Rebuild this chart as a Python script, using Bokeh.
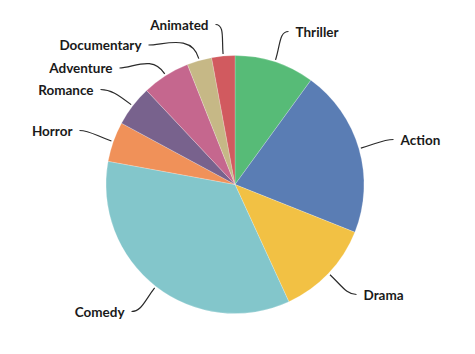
import math
from bokeh.plotting import figure
from bokeh.models import Range1d, ColumnDataSource
from bokeh.core.properties import value
from bokeh.embed import file_html
from bokeh.resources import INLINE

# ---- data ----
genres = ["Thriller", "Action", "Drama", "Comedy", "Horror",
          "Romance", "Adventure", "Documentary", "Animated"]
shares = [10, 21, 12.1, 34.7, 5.0, 5.1, 6.0, 3.1, 2.9]
colors = ["#57BB77", "#5A7DB4", "#F2C144", "#83C6CB", "#F09159",
          "#78628D", "#C5678E", "#C6B886", "#D15A5F"]

# ---- layout (pixel space, y measured from top) ----
W, H = 475, 354
CX, CY, R = 234.5, 184.0, 129.0
# end point of each leader line (near the label) and label side
lead_end_x = [288, 393, 356, 131, 79, 100, 119, 148, 215]
lead_end_y = [31, 139, 294, 311, 130, 89, 67.5, 44.5, 24]
side = [1, 1, 1, -1, -1, -1, -1, -1, -1]

p = figure(width=W, height=H, output_backend="svg", toolbar_location=None,
           x_range=Range1d(0, W), y_range=Range1d(0, H), min_border=0)
p.axis.visible = False
p.grid.visible = False
p.outline_line_color = None
p.background_fill_color = "white"
p.border_fill_color = "white"

total = sum(shares)
starts, ends, mids = [], [], []
acc = 0.0
for s in shares:
    a0 = acc / total * 2 * math.pi
    acc += s
    a1 = acc / total * 2 * math.pi
    starts.append(math.pi / 2 - a0)
    ends.append(math.pi / 2 - a1)
    mids.append((a0 + a1) / 2)

src = ColumnDataSource(dict(start=starts, end=ends, color=colors))
p.wedge(x=CX, y=H - CY, radius=R, start_angle="start", end_angle="end",
        direction="clock", fill_color="color", line_color="white",
        line_width=0.3, line_alpha=0.7, source=src)

# leader lines
x0s, y0s, x1s, y1s, c0x, c0y, c1x, c1y = [], [], [], [], [], [], [], []
for m, ex, ey, sd in zip(mids, lead_end_x, lead_end_y, side):
    ux, uy = math.sin(m), -math.cos(m)  # pixel-space radial unit (y down)
    sx, sy = CX + (R + 2) * ux, CY + (R + 2) * uy
    d = math.hypot(ex - sx, ey - sy)
    k = 0.5 * d
    cp1x, cp1y = sx + ux * k, sy + uy * k
    cp2x, cp2y = ex - sd * k * 0.6, ey
    x0s.append(sx); y0s.append(H - sy)
    x1s.append(ex); y1s.append(H - ey)
    c0x.append(cp1x); c0y.append(H - cp1y)
    c1x.append(cp2x); c1y.append(H - cp2y)

p.bezier(x0=x0s, y0=y0s, x1=x1s, y1=y1s, cx0=c0x, cy0=c0y, cx1=c1x, cy1=c1y,
         line_color="#2b2b2b", line_width=1.2)

tx = [ex + sd * 7 for ex, sd in zip(lead_end_x, side)]
ty = [H - ey for ey in lead_end_y]
align = ["left" if sd > 0 else "right" for sd in side]
p.text(x=tx, y=ty, text=genres, text_align=align, text_baseline="middle",
       text_font=value("Lato"), text_font_style="bold",
       text_font_size="13.5px", text_color="#1a1a1a")

open("out.html", "w").write(file_html(p, INLINE))
